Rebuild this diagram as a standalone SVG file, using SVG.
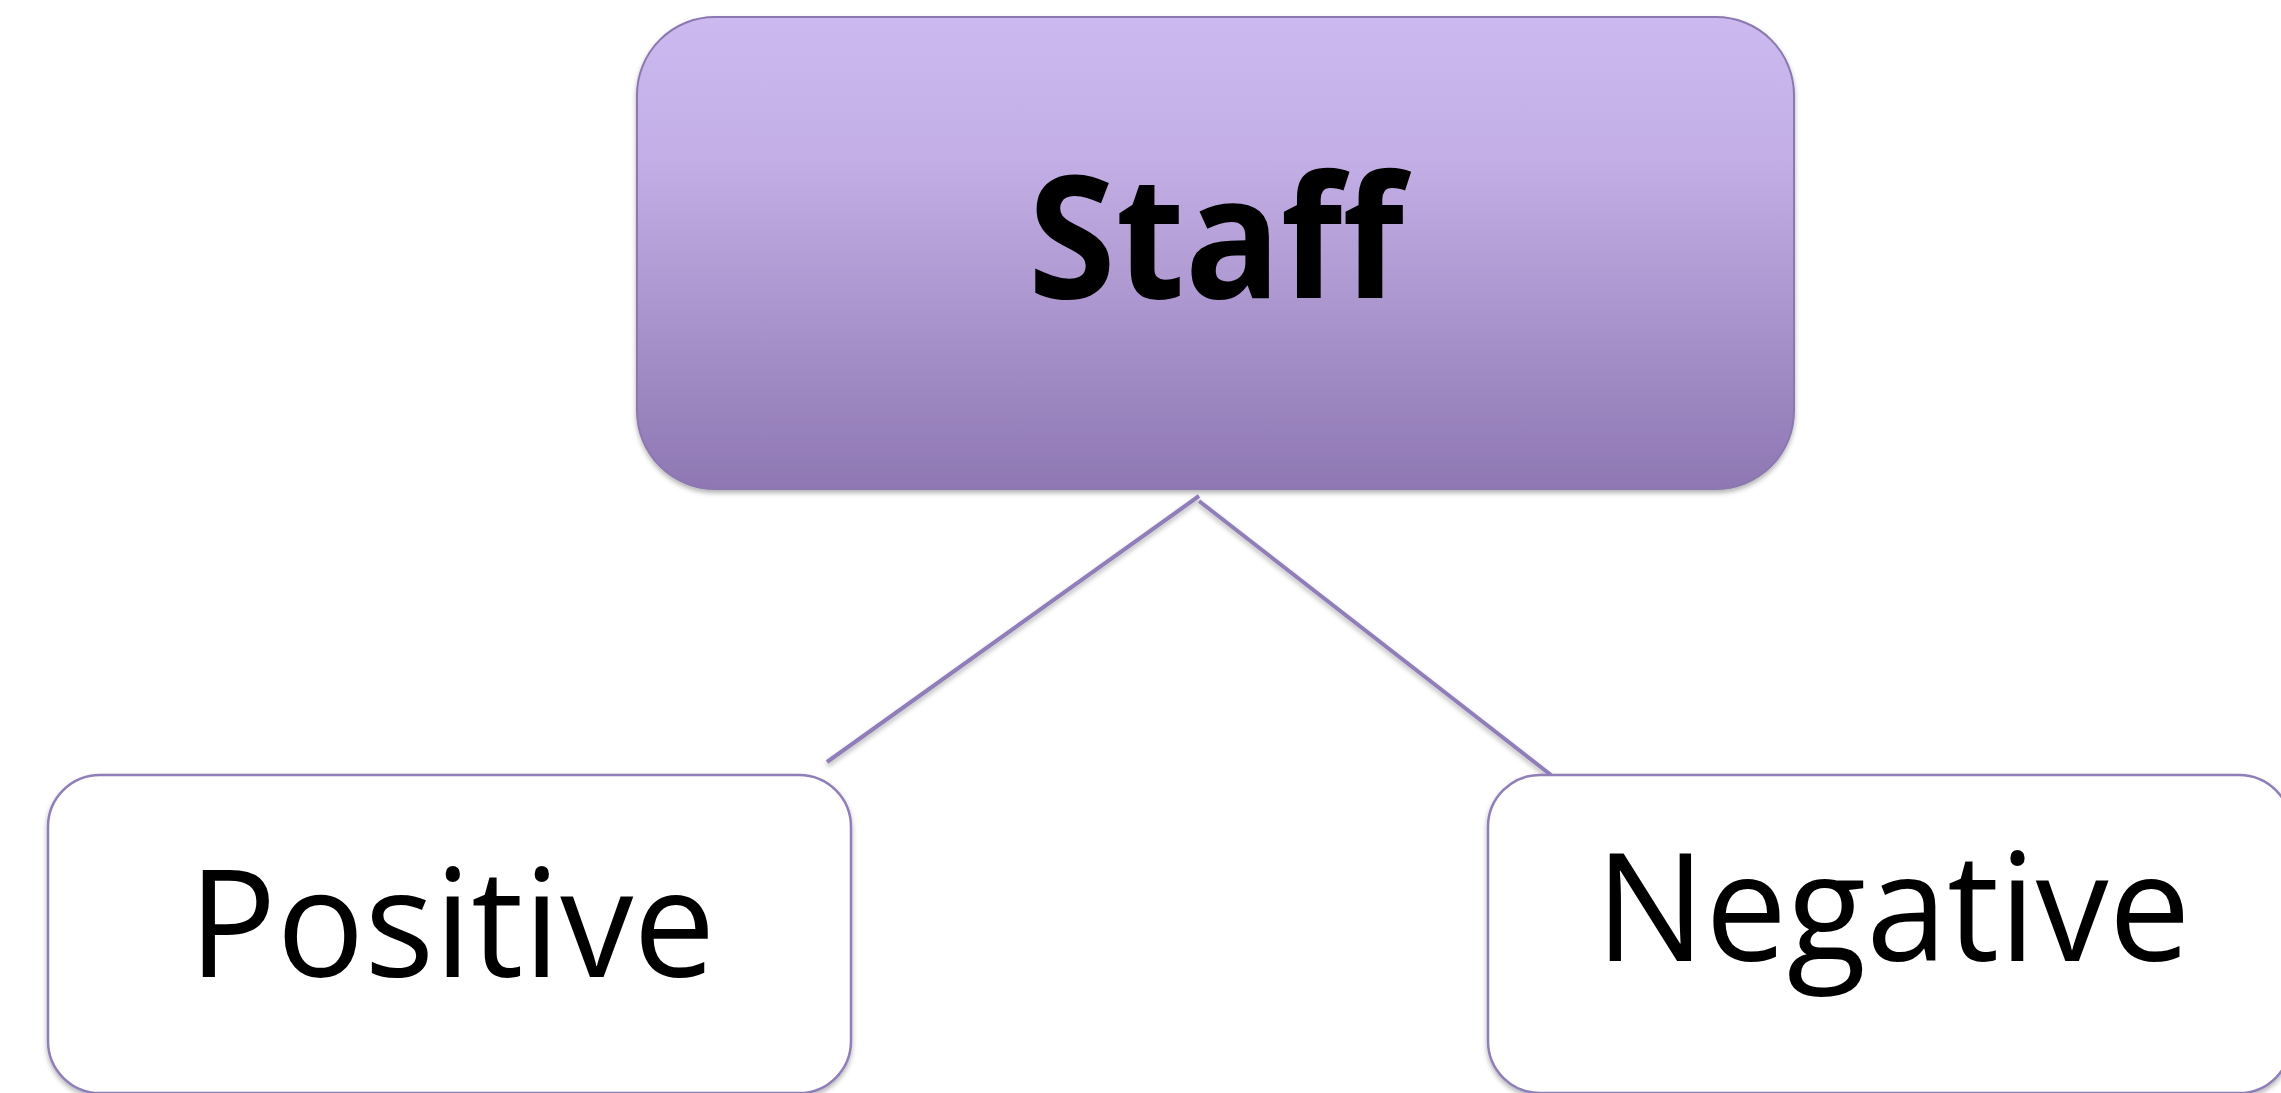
<svg xmlns="http://www.w3.org/2000/svg" width="2281" height="1093" viewBox="0 0 2281 1093">
<style>
.child{fill:#ffffff;stroke:#8f7eb8;stroke-width:2.5}
.lbl{font-family:"Open Sans","Noto Sans",sans-serif;fill:#000;text-anchor:middle}
.conn{stroke:#8f7eb8;stroke-width:4;fill:none}
</style>
<defs>
<linearGradient id="g" x1="0" y1="0" x2="0" y2="1">
<stop offset="0" stop-color="#cbb9ef"/>
<stop offset="0.3" stop-color="#c3afe5"/>
<stop offset="1" stop-color="#8e77b3"/>
</linearGradient>
<filter id="sh" x="-5%" y="-5%" width="110%" height="115%">
<feDropShadow dx="0" dy="3" stdDeviation="2.5" flood-color="#000" flood-opacity="0.3"/>
</filter>
</defs>
<rect width="2281" height="1093" fill="#ffffff"/>
<g id="connectors" filter="url(#sh)">
<line class="conn" x1="1199" y1="496" x2="827" y2="762"/>
<line class="conn" x1="1199" y1="501" x2="1551" y2="775"/>
</g>
<g id="staff">
<rect x="637" y="17" width="1157" height="472" rx="78" ry="78" fill="url(#g)" stroke="#8c78b0" stroke-width="2" filter="url(#sh)"/>
<text class="lbl" x="1216" y="298" font-size="171" font-weight="bold" textLength="376" lengthAdjust="spacingAndGlyphs">Staff</text>
</g>
<g id="positive">
<rect class="child" x="48" y="775" width="803" height="318" rx="52" ry="52" filter="url(#sh)"/>
<text class="lbl" x="452" y="977" font-size="151" textLength="527" lengthAdjust="spacingAndGlyphs">Positive</text>
</g>
<g id="negative">
<rect class="child" x="1488" y="775" width="803" height="318" rx="52" ry="52" filter="url(#sh)"/>
<text class="lbl" x="1893" y="961" font-size="151" textLength="595" lengthAdjust="spacingAndGlyphs">Negative</text>
</g>
</svg>
